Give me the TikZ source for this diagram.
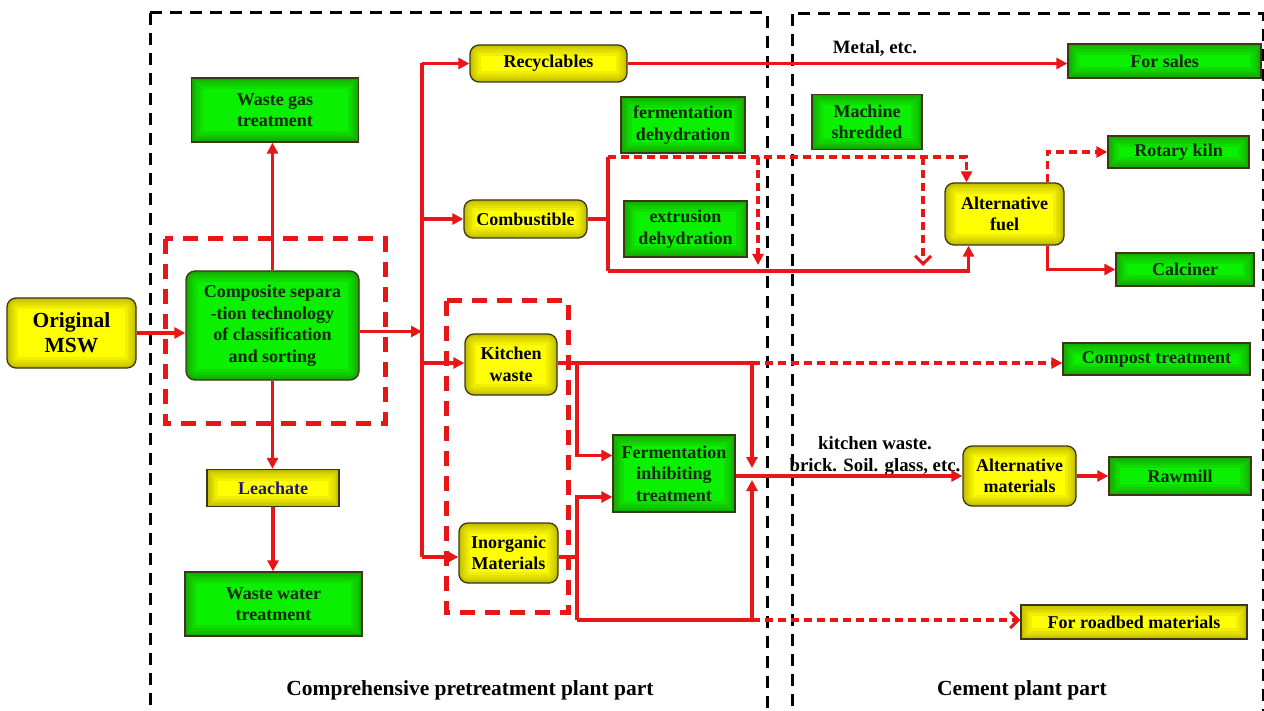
\documentclass[tikz,border=0pt]{standalone}
\usepackage{fontspec}
\setmainfont{Liberation Serif}
\usetikzlibrary{arrows.meta}
\definecolor{flowred}{RGB}{232,22,22}
\definecolor{boxedge}{RGB}{60,55,25}
\definecolor{gtext}{RGB}{15,40,10}
\definecolor{gfill}{RGB}{10,240,0}
\definecolor{gedge}{RGB}{40,100,0}
\definecolor{yfill}{RGB}{255,255,0}
\definecolor{yedge}{RGB}{140,130,0}
\definecolor{leachblue}{RGB}{25,25,120}
% inner glow along the border of a box
\newcommand\boxglow[1]{%
  \foreach \w in {22,16,11,7,4,2}
    \draw[#1,line width=\w pt,opacity=.12] (path picture bounding box.south west) rectangle (path picture bounding box.north east) ;}

\begin{document}
\begin{tikzpicture}[x=1pt,y=-1pt,
    box/.style={draw=boxedge,line width=1.3pt,inner sep=0pt,align=center,
      font=\bfseries\fontsize{18}{21.5}\selectfont},
    gbox/.style={box,fill=gfill,text=gtext,path picture={\boxglow{gedge}}},
    ybox/.style={box,fill=yfill,path picture={\boxglow{yedge}}},
    rbox/.style={rounded corners=9pt},
    dims/.style 2 args={minimum width=#1pt,minimum height=#2pt},
    line/.style={draw=flowred,line width=3.2pt},
    flow/.style={line,-{Triangle[length=11pt,width=11pt]}},
    dflow/.style={flow,dash pattern=on 8pt off 5pt},
    barb/.style={line,dash pattern=on 8pt off 5pt,-{Straight Barb[length=8pt,width=16pt,line width=3pt]}},
    frame/.style={draw=black,line width=3pt,dash pattern=on 12pt off 8pt},
    group/.style={draw=flowred,line width=5pt,dash pattern=on 15pt off 10pt},
    note/.style={font=\bfseries\fontsize{18.8}{22}\selectfont},
    caption/.style={font=\bfseries\fontsize{21.5}{25}\selectfont}]
  \useasboundingbox (0,0) rectangle (1264,711) ;
  % the two plant parts
  \draw[frame] (150,13) rectangle (767,712) ;
  \draw[frame] (792,14) rectangle (1263,712) ;
  \draw[group] (165,239) rectangle (385,423) ;
  \draw[group] (446,301) rectangle (568,612) ;
  % pretreatment part
  \node[ybox,rbox,dims={129}{70},font=\bfseries\fontsize{21.5}{25}\selectfont] (msw) at (71.5,333) {Original\\MSW} ;
  \node[gbox,dims={167}{64}] (wgas) at (275,110) {Waste gas\\treatment} ;
  \node[gbox,rbox,dims={173}{109}] (sep) at (272.5,325.5) {Composite separa\\-tion technology\\of classification\\and sorting} ;
  \node[ybox,dims={132}{37},text=leachblue] (leach) at (273,488) {Leachate} ;
  \node[gbox,dims={177}{64}] (wwater) at (273.5,604) {Waste water\\treatment} ;
  \node[ybox,rbox,dims={157}{37}] (recy) at (548.5,63.5) {Recyclables} ;
  \node[ybox,rbox,dims={123}{38}] (comb) at (525.5,219) {Combustible} ;
  \node[gbox,dims={124}{56}] (fdeh) at (683,125) {fermentation\\dehydration} ;
  \node[gbox,dims={123}{56}] (edeh) at (685.5,229) {extrusion\\dehydration} ;
  \node[ybox,rbox,dims={92}{61}] (kitchen) at (511,364.5) {Kitchen\\waste} ;
  \node[ybox,rbox,dims={99}{60}] (inorg) at (508.5,553) {Inorganic\\Materials} ;
  \node[gbox,dims={122}{77}] (ferm) at (674,473.5) {Fermentation\\inhibiting\\treatment} ;
  % cement part
  \node[gbox,dims={193}{34}] (sales) at (1164.5,61) {For sales} ;
  \node[gbox,dims={110}{55}] (shred) at (867,122) {Machine\\shredded} ;
  \node[ybox,rbox,dims={119}{62}] (afuel) at (1004.5,214) {Alternative\\fuel} ;
  \node[gbox,dims={141}{32}] (kiln) at (1178.5,152) {Rotary kiln} ;
  \node[gbox,dims={138}{33}] (calc) at (1185,269.5) {Calciner} ;
  \node[gbox,dims={187}{32}] (compost) at (1156.5,359) {Compost treatment} ;
  \node[ybox,rbox,dims={113}{60}] (amat) at (1019.5,476) {Alternative\\materials} ;
  \node[gbox,dims={142}{38}] (rawmill) at (1180,476) {Rawmill} ;
  \node[ybox,dims={226}{34}] (road) at (1134,622) {For roadbed materials} ;
  \node[note] (metal) at (875,48) {Metal, etc.} ;
  \node[note,align=center] (mix) at (875,456) {kitchen waste.\\brick. Soil. glass, etc.} ;
  \node[caption] (cap1) at (470,690) {Comprehensive pretreatment plant part} ;
  \node[caption] (cap2) at (1022,690) {Cement plant part} ;
  % junctions
  \coordinate (busR) at (422,63.5) ;
  \coordinate (busI) at (422,557) ;
  \coordinate (cj) at (608,219) ;
  \coordinate (ctop) at (608,157) ;
  \coordinate (cbot) at (608,271) ;
  \coordinate (d1) at (758,157) ;
  \coordinate (d2) at (923,157) ;
  \coordinate (kj) at (752,363) ;
  \coordinate (kb) at (577,363) ;
  \coordinate (it) at (577,497) ;
  \coordinate (ib) at (577,620) ;
  \coordinate (rj) at (752,620) ;
  \coordinate (fj) at (752,477) ;
  % connectors
  \draw[flow] (msw.east) -- (msw.east -| sep.west) ;
  \draw[flow] (sep.north) -- (sep.north |- wgas.south) ;
  \draw[flow] (sep.south) -- (sep.south |- leach.north) ;
  \draw[flow] (leach.south) -- (leach.south |- wwater.north) ;
  \draw[flow] ([yshift=-6pt]sep.east) -- ([yshift=-6pt]sep.east -| busR) ;
  \draw[line] (busR) -- (busI) ;
  \draw[flow] (busR) -- (recy.west) ;
  \draw[flow] (busR |- comb) -- (comb.west) ;
  \draw[flow] (busR |- kb) -- (kb -| kitchen.west) ;
  \draw[flow] (busI) -- (busI -| inorg.west) ;
  \draw[flow] (recy.east) -- (recy.east -| sales.west) ;
  \draw[line] (comb.east) -- (cj) ;
  \draw[line] (ctop) -- (cbot) ;
  \draw[dflow] (ctop) -| ([xshift=-38pt]afuel.north) ;
  \draw[dflow] (d1) -- ([yshift=6pt]d1 |- cbot) ;
  \draw[barb] (d2) -- ([yshift=5pt]d2 |- cbot) ;
  \draw[flow] (cbot) -| ([xshift=-36pt]afuel.south) ;
  \draw[dflow] ([xshift=43pt]afuel.north) |- (kiln.west) ;
  \draw[flow] ([xshift=43pt]afuel.south) |- (calc.west) ;
  \draw[line] (kitchen.east |- kj) -- (kj) ;
  \draw[dflow] (kj) -- (kj -| compost.west) ;
  \draw[flow] (kj) -- ([yshift=9pt]fj) ;
  \draw[flow] (kb) |- ([yshift=18pt]ferm.west) ;
  \draw[line] (inorg.east |- busI) -- (busI -| kb) ;
  \draw[flow] (ib) -- (it) -- (it -| ferm.west) ;
  \draw[line] (ib) -- (rj) ;
  \draw[barb] (rj) -- (rj -| road.west) ;
  \draw[flow] (rj) -- ([yshift=-3pt]fj) ;
  \draw[flow] (ferm.east |- amat) -- (amat.west) ;
  \draw[flow] (amat.east) -- (rawmill.west) ;
\end{tikzpicture}
\end{document}
